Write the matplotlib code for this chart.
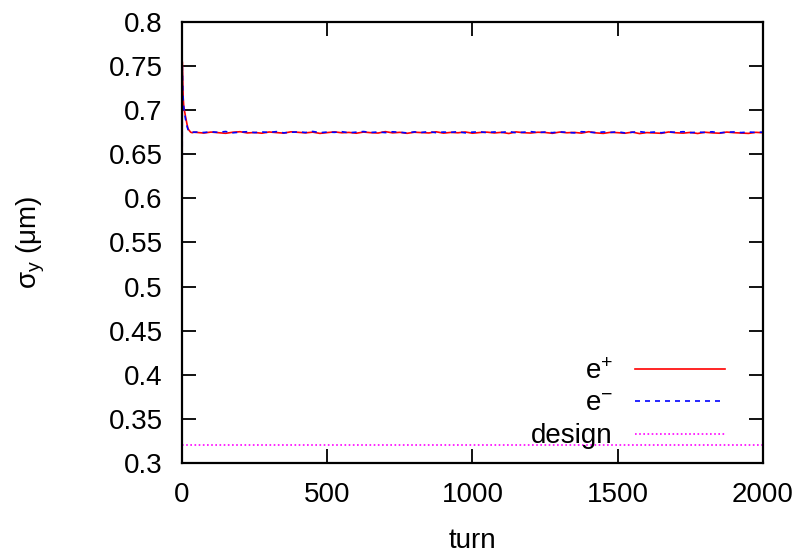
import matplotlib
matplotlib.use("Agg")
import matplotlib.pyplot as plt

plt.rcParams["font.family"] = ["Liberation Sans", "DejaVu Sans"]
plt.rcParams["mathtext.default"] = "regular"

# start-up transient (turn 0 .. 40)
turn_start = [0, 1, 2, 3, 4, 5, 6, 8, 10, 12, 15, 18, 21, 25, 30, 35, 40]
ep_start = [0.33, 0.755, 0.74, 0.725, 0.715, 0.71, 0.705, 0.70, 0.697, 0.693,
            0.688, 0.683, 0.679, 0.677, 0.675, 0.6745, 0.6750]
em_start = [0.33, 0.75, 0.735, 0.72, 0.712, 0.708, 0.703, 0.699, 0.695, 0.690,
            0.686, 0.681, 0.678, 0.676, 0.6752, 0.6748, 0.6751]

# equilibrium, sampled every 25 turns
turn_eq = list(range(50, 2001, 25))
ep_eq = [0.6748, 0.6741, 0.6752, 0.6745, 0.6738, 0.6750, 0.6756, 0.6742, 0.6747, 0.6739,
         0.6753, 0.6746, 0.6740, 0.6755, 0.6749, 0.6743, 0.6751, 0.6737, 0.6746, 0.6754,
         0.6744, 0.6748, 0.6739, 0.6752, 0.6745, 0.6741, 0.6757, 0.6743, 0.6749, 0.6738,
         0.6750, 0.6746, 0.6742, 0.6755, 0.6740, 0.6748, 0.6744, 0.6753, 0.6739, 0.6747,
         0.6751, 0.6742, 0.6749, 0.6736, 0.6754, 0.6745, 0.6741, 0.6750, 0.6747, 0.6738,
         0.6752, 0.6744, 0.6748, 0.6740, 0.6756, 0.6743, 0.6737, 0.6749, 0.6745, 0.6739,
         0.6751, 0.6735, 0.6746, 0.6742, 0.6738, 0.6753, 0.6744, 0.6740, 0.6748, 0.6736,
         0.6750, 0.6743, 0.6739, 0.6752, 0.6745, 0.6741, 0.6737, 0.6749, 0.6744]
em_eq = [0.6752, 0.6747, 0.6755, 0.6749, 0.6758, 0.6744, 0.6751, 0.6756, 0.6746, 0.6753,
         0.6748, 0.6757, 0.6743, 0.6750, 0.6754, 0.6747, 0.6759, 0.6745, 0.6752, 0.6749,
         0.6756, 0.6744, 0.6751, 0.6758, 0.6747, 0.6753, 0.6746, 0.6755, 0.6750, 0.6742,
         0.6754, 0.6748, 0.6757, 0.6745, 0.6752, 0.6749, 0.6756, 0.6743, 0.6751, 0.6755,
         0.6746, 0.6753, 0.6748, 0.6758, 0.6744, 0.6750, 0.6757, 0.6747, 0.6752, 0.6745,
         0.6754, 0.6749, 0.6743, 0.6756, 0.6751, 0.6746, 0.6753, 0.6748, 0.6755, 0.6742,
         0.6750, 0.6757, 0.6747, 0.6752, 0.6744, 0.6754, 0.6749, 0.6756, 0.6745, 0.6751,
         0.6748, 0.6755, 0.6743, 0.6750, 0.6753, 0.6746, 0.6752, 0.6748, 0.6751]

design_turn = [0, 2000]
design_sigma = [0.32, 0.32]

xticks = [0, 500, 1000, 1500, 2000]
yticks = [0.3, 0.35, 0.4, 0.45, 0.5, 0.55, 0.6, 0.65, 0.7, 0.75, 0.8]
ytick_labels = ["0.3", "0.35", "0.4", "0.45", "0.5", "0.55", "0.6", "0.65", "0.7", "0.75", "0.8"]

FS = 20

fig = plt.figure(figsize=(8.07, 5.57), dpi=100)
ax = fig.add_axes([0.2255, 0.1688, 0.72, 0.7917])

ax.plot(turn_start + turn_eq, ep_start + ep_eq, color="#ff0000", lw=1.2, label="e$^{+}$")
ax.plot(turn_start + turn_eq, em_start + em_eq, color="#0000ff", lw=1.2,
        linestyle=(0, (3, 3)), label="e$^{-}$")
ax.plot(design_turn, design_sigma, color="#ff00ff", lw=1.2,
        linestyle=(0, (1, 1.5)), label="design")

ax.set_xlim(0, 2000)
ax.set_ylim(0.3, 0.8)
ax.set_xticks(xticks)
ax.set_yticks(yticks)
ax.set_yticklabels(ytick_labels)
ax.tick_params(direction="in", length=10, width=1.3, labelsize=FS,
               top=True, right=True)
ax.tick_params(axis="y", pad=14)
ax.tick_params(axis="x", pad=14)
for s in ax.spines.values():
    s.set_linewidth(1.6)

ax.set_xlabel("turn", fontsize=FS)
ax.set_ylabel("σ$_{y}$ (μm)", fontsize=FS)
ax.xaxis.set_label_coords(0.5, -0.148)
ax.yaxis.set_label_coords(-0.232, 0.5)

ax.legend(loc="lower right", bbox_to_anchor=(0.935, 0.031), markerfirst=False,
          frameon=False, fontsize=FS, handlelength=3.25, handletextpad=0.8,
          labelspacing=0.22, borderpad=0.0, borderaxespad=0.0)

fig.savefig("out.png", dpi=100)
